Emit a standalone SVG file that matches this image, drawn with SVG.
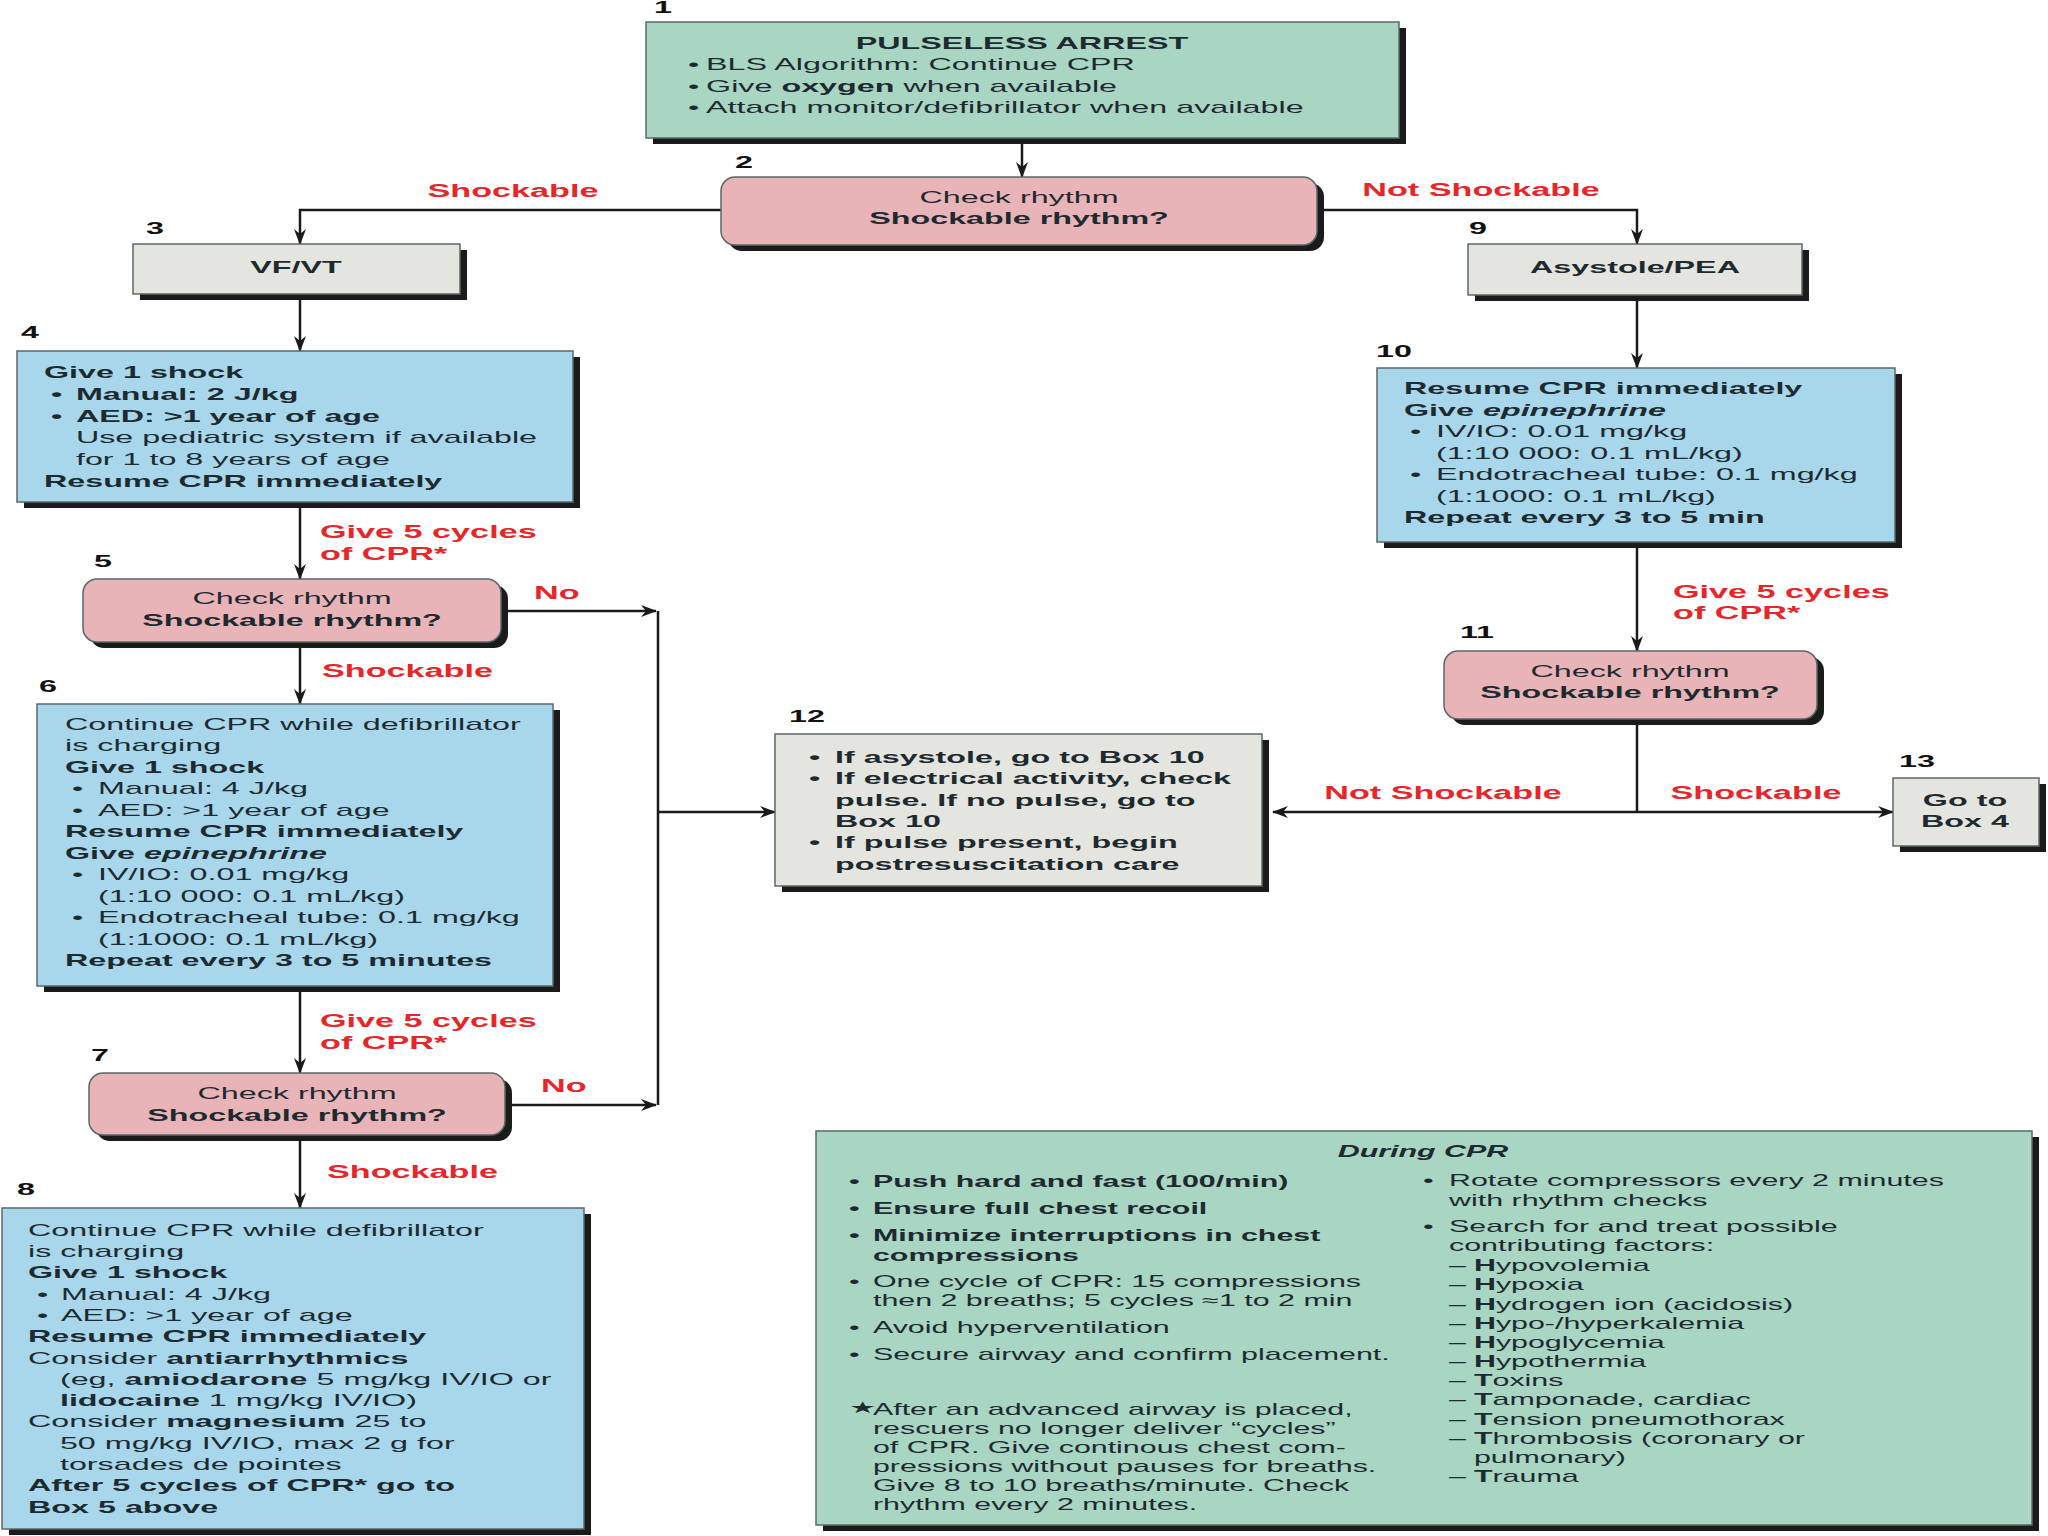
<svg xmlns="http://www.w3.org/2000/svg" width="2048" height="1536" viewBox="0 0 2048 1536">
<defs>
<style>
text{font-family:"Liberation Sans",Arial,Helvetica,sans-serif;font-size:17px;fill:#1d2a30}
.b{font-weight:bold}
.i{font-style:italic}
.c{text-anchor:middle}
.s16 text,.s16{font-size:16px}
.red{fill:#e8262a;font-weight:bold;font-size:18px}
.num{font-weight:bold;fill:#111}
.sh{fill:#1b1b1b}
.bx{stroke:#5b6868;stroke-width:1.5}
.green{fill:#a9d5c3}
.pink{fill:#e9b4b7}
.blue{fill:#a8d7ec}
.gray{fill:#e5e5df}
</style>
<marker id="ah" viewBox="0 0 16 12" refX="15" refY="6" markerWidth="16" markerHeight="12" markerUnits="userSpaceOnUse" orient="auto">
<path d="M0,0 L16,6 L0,12 L5,6 Z" fill="#1a1a1a"/>
</marker>
</defs>
<rect x="0" y="0" width="2048" height="1536" fill="#ffffff"/>

<g id="connectors" fill="none" stroke="#1a1a1a" stroke-width="2.5">
<path d="M1022,140 V177" marker-end="url(#ah)"/>
<path d="M721,210 H300 V244" marker-end="url(#ah)"/>
<path d="M1317,210 H1637 V244" marker-end="url(#ah)"/>
<path d="M300,294 V351" marker-end="url(#ah)"/>
<path d="M300,502 V579" marker-end="url(#ah)"/>
<path d="M501,611 H656" marker-end="url(#ah)"/>
<path d="M658,611 V1105"/>
<path d="M505,1105 H656" marker-end="url(#ah)"/>
<path d="M658,812 H775" marker-end="url(#ah)"/>
<path d="M300,642 V704" marker-end="url(#ah)"/>
<path d="M300,986 V1073" marker-end="url(#ah)"/>
<path d="M300,1135 V1208" marker-end="url(#ah)"/>
<path d="M1637,295 V368" marker-end="url(#ah)"/>
<path d="M1637,542 V651" marker-end="url(#ah)"/>
<path d="M1637,719 V812"/>
<path d="M1637,812 H1273" marker-end="url(#ah)"/>
<path d="M1637,812 H1893" marker-end="url(#ah)"/>
</g>

<g id="edge-labels">
<g transform="matrix(1.9,0,0,1,513,0)"><text class="red c" x="0" y="197">Shockable</text></g>
<g transform="matrix(1.9,0,0,1,1481,0)"><text class="red c" x="0" y="196">Not Shockable</text></g>
<g transform="matrix(1.9,0,0,1,320,0)"><text class="red" x="0" y="538">Give 5 cycles</text><text class="red" x="0" y="560">of CPR*</text></g>
<g transform="matrix(1.9,0,0,1,534,0)"><text class="red" x="0" y="599">No</text></g>
<g transform="matrix(1.9,0,0,1,322,0)"><text class="red" x="0" y="677">Shockable</text></g>
<g transform="matrix(1.9,0,0,1,320,0)"><text class="red" x="0" y="1027">Give 5 cycles</text><text class="red" x="0" y="1049">of CPR*</text></g>
<g transform="matrix(1.9,0,0,1,541,0)"><text class="red" x="0" y="1092">No</text></g>
<g transform="matrix(1.9,0,0,1,327,0)"><text class="red" x="0" y="1178">Shockable</text></g>
<g transform="matrix(1.9,0,0,1,1673,0)"><text class="red" x="0" y="598">Give 5 cycles</text><text class="red" x="0" y="619">of CPR*</text></g>
<g transform="matrix(1.9,0,0,1,1443,0)"><text class="red c" x="0" y="799">Not Shockable</text></g>
<g transform="matrix(1.9,0,0,1,1756,0)"><text class="red c" x="0" y="799">Shockable</text></g>
</g>

<g id="node1">
<rect class="sh" x="653" y="28" width="753" height="116"/>
<rect class="bx green" x="646" y="22" width="753" height="116"/>
<g transform="matrix(1.9,0,0,1,663,0)"><text class="num c" x="0" y="13">1</text></g>
<g transform="matrix(1.9,0,0,1,1022,0)"><text class="b c" x="0" y="49">PULSELESS ARREST</text></g>
<g transform="matrix(1.9,0,0,1,688,0)">
<text y="70"><tspan x="0">•</tspan><tspan x="9.5">BLS Algorithm: Continue CPR</tspan></text>
<text y="92"><tspan x="0">•</tspan><tspan x="9.5">Give </tspan><tspan class="b">oxygen</tspan><tspan> when available</tspan></text>
<text y="113"><tspan x="0">•</tspan><tspan x="9.5">Attach monitor/defibrillator when available</tspan></text>
</g>
</g>

<g id="node2">
<rect class="sh" x="728" y="183" width="596" height="68" rx="14"/>
<rect class="bx pink" x="721" y="177" width="596" height="68" rx="14"/>
<g transform="matrix(1.9,0,0,1,744,0)"><text class="num c" x="0" y="168">2</text></g>
<g transform="matrix(1.9,0,0,1,1019,0)"><text class="c" x="0" y="203">Check rhythm</text><text class="b c" x="0" y="224">Shockable rhythm?</text></g>
</g>

<g id="node3">
<rect class="sh" x="140" y="250" width="327" height="50"/>
<rect class="bx gray" x="133" y="244" width="327" height="50"/>
<g transform="matrix(1.9,0,0,1,155,0)"><text class="num c" x="0" y="234">3</text></g>
<g transform="matrix(1.9,0,0,1,296,0)"><text class="b c" x="0" y="273">VF/VT</text></g>
</g>

<g id="node4">
<rect class="sh" x="24" y="357" width="556" height="151"/>
<rect class="bx blue" x="17" y="351" width="556" height="151"/>
<g transform="matrix(1.9,0,0,1,30,0)"><text class="num c" x="0" y="338">4</text></g>
<g transform="matrix(1.9,0,0,1,44,0)">
<text class="b" x="0" y="378">Give 1 shock</text>
<text class="b" y="400"><tspan x="3.7">•</tspan><tspan x="16.8">Manual: 2 J/kg</tspan></text>
<text class="b" y="422"><tspan x="3.7">•</tspan><tspan x="16.8">AED: &gt;1 year of age</tspan></text>
<text x="16.8" y="443">Use pediatric system if available</text>
<text x="16.8" y="465">for 1 to 8 years of age</text>
<text class="b" x="0" y="487">Resume CPR immediately</text>
</g>
</g>

<g id="node5">
<rect class="sh" x="90" y="585" width="418" height="63" rx="14"/>
<rect class="bx pink" x="83" y="579" width="418" height="63" rx="14"/>
<g transform="matrix(1.9,0,0,1,103,0)"><text class="num c" x="0" y="567">5</text></g>
<g transform="matrix(1.9,0,0,1,292,0)"><text class="c" x="0" y="604">Check rhythm</text><text class="b c" x="0" y="626">Shockable rhythm?</text></g>
</g>

<g id="node6">
<rect class="sh" x="44" y="710" width="516" height="282"/>
<rect class="bx blue" x="37" y="704" width="516" height="282"/>
<g transform="matrix(1.9,0,0,1,48,0)"><text class="num c" x="0" y="692">6</text></g>
<g transform="matrix(1.9,0,0,1,65,0)">
<text x="0" y="730">Continue CPR while defibrillator</text>
<text x="0" y="751">is charging</text>
<text class="b" x="0" y="773">Give 1 shock</text>
<text y="794"><tspan x="3.7">•</tspan><tspan x="17.4">Manual: 4 J/kg</tspan></text>
<text y="816"><tspan x="3.7">•</tspan><tspan x="17.4">AED: &gt;1 year of age</tspan></text>
<text class="b" x="0" y="837">Resume CPR immediately</text>
<text class="b" x="0" y="859">Give <tspan class="i">epinephrine</tspan></text>
<text y="880"><tspan x="3.7">•</tspan><tspan x="17.4">IV/IO: 0.01 mg/kg</tspan></text>
<text x="17.4" y="902">(1:10 000: 0.1 mL/kg)</text>
<text y="923"><tspan x="3.7">•</tspan><tspan x="17.4">Endotracheal tube: 0.1 mg/kg</tspan></text>
<text x="17.4" y="945">(1:1000: 0.1 mL/kg)</text>
<text class="b" x="0" y="966">Repeat every 3 to 5 minutes</text>
</g>
</g>

<g id="node7">
<rect class="sh" x="96" y="1079" width="416" height="62" rx="14"/>
<rect class="bx pink" x="89" y="1073" width="416" height="62" rx="14"/>
<g transform="matrix(1.9,0,0,1,100,0)"><text class="num c" x="0" y="1061">7</text></g>
<g transform="matrix(1.9,0,0,1,297,0)"><text class="c" x="0" y="1099">Check rhythm</text><text class="b c" x="0" y="1121">Shockable rhythm?</text></g>
</g>

<g id="node8">
<rect class="sh" x="9" y="1214" width="582" height="321"/>
<rect class="bx blue" x="2" y="1208" width="582" height="321"/>
<g transform="matrix(1.9,0,0,1,26,0)"><text class="num c" x="0" y="1195">8</text></g>
<g transform="matrix(1.9,0,0,1,28,0)">
<text x="0" y="1236">Continue CPR while defibrillator</text>
<text x="0" y="1257">is charging</text>
<text class="b" x="0" y="1278">Give 1 shock</text>
<text y="1300"><tspan x="4.7">•</tspan><tspan x="17.4">Manual: 4 J/kg</tspan></text>
<text y="1321"><tspan x="4.7">•</tspan><tspan x="17.4">AED: &gt;1 year of age</tspan></text>
<text class="b" x="0" y="1342">Resume CPR immediately</text>
<text x="0" y="1364">Consider <tspan class="b">antiarrhythmics</tspan></text>
<text x="16.8" y="1385">(eg, <tspan class="b">amiodarone</tspan> 5 mg/kg IV/IO or</text>
<text x="16.8" y="1406"><tspan class="b">lidocaine</tspan> 1 mg/kg IV/IO)</text>
<text x="0" y="1427">Consider <tspan class="b">magnesium</tspan> 25 to</text>
<text x="16.8" y="1449">50 mg/kg IV/IO, max 2 g for</text>
<text x="16.8" y="1470">torsades de pointes</text>
<text class="b" x="0" y="1491">After 5 cycles of CPR* go to</text>
<text class="b" x="0" y="1513">Box 5 above</text>
</g>
</g>

<g id="node9">
<rect class="sh" x="1475" y="250" width="334" height="51"/>
<rect class="bx gray" x="1468" y="244" width="334" height="51"/>
<g transform="matrix(1.9,0,0,1,1478,0)"><text class="num c" x="0" y="234">9</text></g>
<g transform="matrix(1.9,0,0,1,1635,0)"><text class="b c" x="0" y="273">Asystole/PEA</text></g>
</g>

<g id="node10">
<rect class="sh" x="1384" y="374" width="518" height="174"/>
<rect class="bx blue" x="1377" y="368" width="518" height="174"/>
<g transform="matrix(1.9,0,0,1,1394,0)"><text class="num c" x="0" y="357">10</text></g>
<g transform="matrix(1.9,0,0,1,1404,0)">
<text class="b" x="0" y="394">Resume CPR immediately</text>
<text class="b" x="0" y="416">Give <tspan class="i">epinephrine</tspan></text>
<text y="437"><tspan x="3.2">•</tspan><tspan x="16.8">IV/IO: 0.01 mg/kg</tspan></text>
<text x="16.8" y="459">(1:10 000: 0.1 mL/kg)</text>
<text y="480"><tspan x="3.2">•</tspan><tspan x="16.8">Endotracheal tube: 0.1 mg/kg</tspan></text>
<text x="16.8" y="502">(1:1000: 0.1 mL/kg)</text>
<text class="b" x="0" y="523">Repeat every 3 to 5 min</text>
</g>
</g>

<g id="node11">
<rect class="sh" x="1451" y="657" width="373" height="68" rx="14"/>
<rect class="bx pink" x="1444" y="651" width="373" height="68" rx="14"/>
<g transform="matrix(1.9,0,0,1,1477,0)"><text class="num c" x="0" y="638">11</text></g>
<g transform="matrix(1.9,0,0,1,1630,0)"><text class="c" x="0" y="677">Check rhythm</text><text class="b c" x="0" y="698">Shockable rhythm?</text></g>
</g>

<g id="node12">
<rect class="sh" x="782" y="740" width="487" height="152"/>
<rect class="bx gray" x="775" y="734" width="487" height="152"/>
<g transform="matrix(1.9,0,0,1,807,0)"><text class="num c" x="0" y="722">12</text></g>
<g transform="matrix(1.9,0,0,1,809,0)" class="b">
<text class="b" y="763"><tspan x="0">•</tspan><tspan x="13.7">If asystole, go to Box 10</tspan></text>
<text class="b" y="784"><tspan x="0">•</tspan><tspan x="13.7">If electrical activity, check</tspan></text>
<text class="b" x="13.7" y="806">pulse. If no pulse, go to</text>
<text class="b" x="13.7" y="827">Box 10</text>
<text class="b" y="848"><tspan x="0">•</tspan><tspan x="13.7">If pulse present, begin</tspan></text>
<text class="b" x="13.7" y="870">postresuscitation care</text>
</g>
</g>

<g id="node13">
<rect class="sh" x="1900" y="784" width="146" height="68"/>
<rect class="bx gray" x="1893" y="778" width="146" height="68"/>
<g transform="matrix(1.9,0,0,1,1917,0)"><text class="num c" x="0" y="767">13</text></g>
<g transform="matrix(1.9,0,0,1,1965,0)"><text class="b c" x="0" y="806">Go to</text><text class="b c" x="0" y="827">Box 4</text></g>
</g>

<g id="during-cpr" class="s16">
<rect class="sh" x="823" y="1137" width="1216" height="394"/>
<rect class="bx green" x="816" y="1131" width="1216" height="394"/>
<g transform="matrix(1.9,0,0,1,1423,0)"><text class="b i c" x="0" y="1157">During CPR</text></g>
<g transform="matrix(1.9,0,0,1,849,0)">
<text class="b" y="1187"><tspan x="0">•</tspan><tspan x="12.6">Push hard and fast (100/min)</tspan></text>
<text class="b" y="1214"><tspan x="0">•</tspan><tspan x="12.6">Ensure full chest recoil</tspan></text>
<text class="b" y="1241"><tspan x="0">•</tspan><tspan x="12.6">Minimize interruptions in chest</tspan></text>
<text class="b" x="12.6" y="1261">compressions</text>
<text y="1287"><tspan x="0">•</tspan><tspan x="12.6">One cycle of CPR: 15 compressions</tspan></text>
<text x="12.6" y="1306">then 2 breaths; 5 cycles ≈1 to 2 min</text>
<text y="1333"><tspan x="0">•</tspan><tspan x="12.6">Avoid hyperventilation</tspan></text>
<text y="1360"><tspan x="0">•</tspan><tspan x="12.6">Secure airway and confirm placement.</tspan></text>
<text y="1413"><tspan x="0">★</tspan><tspan x="12.6" y="1415">After an advanced airway is placed,</tspan></text>
<text x="12.6" y="1434">rescuers no longer deliver “cycles”</text>
<text x="12.6" y="1453">of CPR. Give continous chest com-</text>
<text x="12.6" y="1472">pressions without pauses for breaths.</text>
<text x="12.6" y="1491">Give 8 to 10 breaths/minute. Check</text>
<text x="12.6" y="1510">rhythm every 2 minutes.</text>
</g>
<g transform="matrix(1.9,0,0,1,1423,0)">
<text y="1186"><tspan x="0">•</tspan><tspan x="13.7">Rotate compressors every 2 minutes</tspan></text>
<text x="13.7" y="1206">with rhythm checks</text>
<text y="1232"><tspan x="0">•</tspan><tspan x="13.7">Search for and treat possible</tspan></text>
<text x="13.7" y="1251">contributing factors:</text>
<text y="1271"><tspan x="13.7">–</tspan><tspan x="26.8" class="b">H</tspan><tspan>ypovolemia</tspan></text>
<text y="1290"><tspan x="13.7">–</tspan><tspan x="26.8" class="b">H</tspan><tspan>ypoxia</tspan></text>
<text y="1310"><tspan x="13.7">–</tspan><tspan x="26.8" class="b">H</tspan><tspan>ydrogen ion (acidosis)</tspan></text>
<text y="1329"><tspan x="13.7">–</tspan><tspan x="26.8" class="b">H</tspan><tspan>ypo-/hyperkalemia</tspan></text>
<text y="1348"><tspan x="13.7">–</tspan><tspan x="26.8" class="b">H</tspan><tspan>ypoglycemia</tspan></text>
<text y="1367"><tspan x="13.7">–</tspan><tspan x="26.8" class="b">H</tspan><tspan>ypothermia</tspan></text>
<text y="1386"><tspan x="13.7">–</tspan><tspan x="26.8" class="b">T</tspan><tspan>oxins</tspan></text>
<text y="1405"><tspan x="13.7">–</tspan><tspan x="26.8" class="b">T</tspan><tspan>amponade, cardiac</tspan></text>
<text y="1425"><tspan x="13.7">–</tspan><tspan x="26.8" class="b">T</tspan><tspan>ension pneumothorax</tspan></text>
<text y="1444"><tspan x="13.7">–</tspan><tspan x="26.8" class="b">T</tspan><tspan>hrombosis (coronary or</tspan></text>
<text x="26.8" y="1463">pulmonary)</text>
<text y="1482"><tspan x="13.7">–</tspan><tspan x="26.8" class="b">T</tspan><tspan>rauma</tspan></text>
</g>
</g>
</svg>
